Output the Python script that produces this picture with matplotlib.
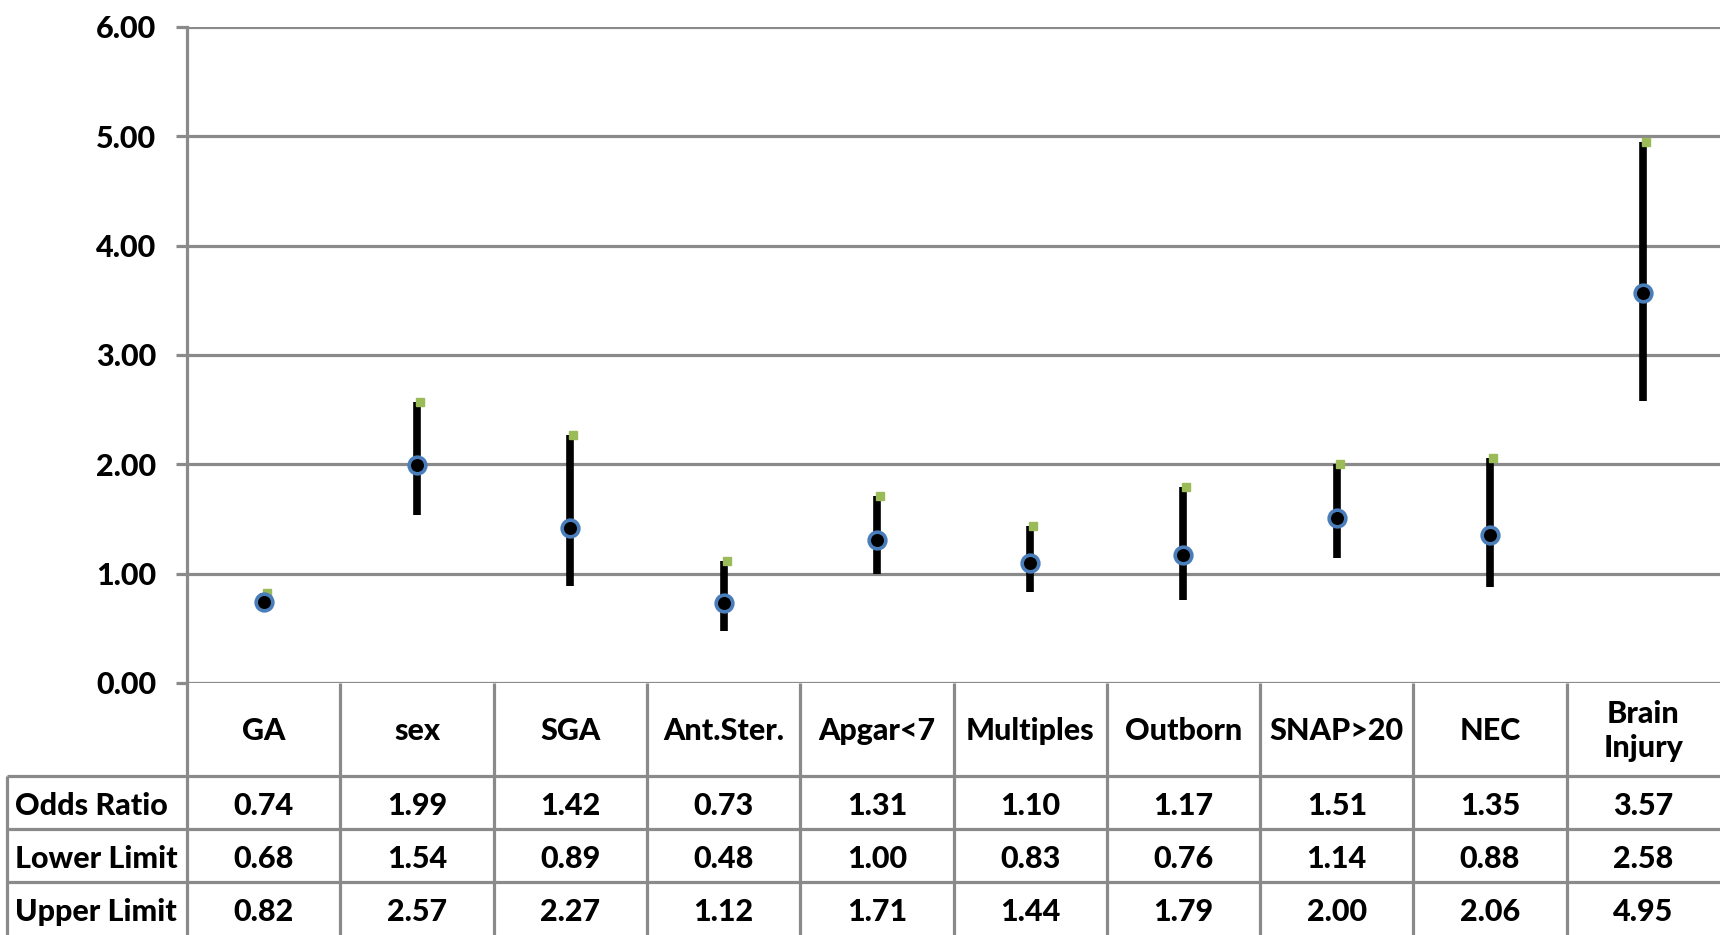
import matplotlib
matplotlib.use("Agg")
import matplotlib.pyplot as plt
import matplotlib.transforms as mtransforms
import numpy as np

categories = ["GA", "sex", "SGA", "Ant.Ster.", "Apgar<7", "Multiples",
              "Outborn", "SNAP>20", "NEC", "Brain\nInjury"]
odds_ratio = [0.74, 1.99, 1.42, 0.73, 1.31, 1.10, 1.17, 1.51, 1.35, 3.57]
lower_limit = [0.68, 1.54, 0.89, 0.48, 1.00, 0.83, 0.76, 1.14, 0.88, 2.58]
upper_limit = [0.82, 2.57, 2.27, 1.12, 1.71, 1.44, 1.79, 2.00, 2.06, 4.95]
row_names = ["Odds Ratio", "Lower Limit", "Upper Limit"]
y_ticks = [0, 1, 2, 3, 4, 5, 6]

grijs = "#8a8a8a"
fonte = {"family": ["Lato", "DejaVu Sans"], "weight": "black", "size": 22}

W, H = 1720, 935
fig = plt.figure(figsize=(W / 100, H / 100), dpi=100)

# posicoes em pixels
x0 = 187
y_zero = 683
y_top = 27
ax = fig.add_axes([x0 / W, (H - y_zero) / H, (W - x0) / W, (y_zero - y_top) / H])

n = len(categories)
xs = np.arange(n) + 0.5

ax.set_xlim(0, n)
ax.set_ylim(0, 6)
ax.set_yticks(y_ticks)
ax.set_yticklabels([f"{v:.2f}" for v in y_ticks], fontdict=fonte)
ax.set_xticks([])
ax.grid(axis="y", color=grijs, linewidth=2.3)
ax.set_axisbelow(True)
for s in ["top", "right", "bottom"]:
    ax.spines[s].set_visible(False)
ax.spines["left"].set_color(grijs)
ax.spines["left"].set_linewidth(2.3)
ax.tick_params(axis="y", length=8, width=2.3, color=grijs, pad=14)

# hi-lo lines
ax.vlines(xs, lower_limit, upper_limit, color="black", linewidth=5.5,
          capstyle="butt", zorder=3)
# upper marker, a bit to the right
desloc = mtransforms.offset_copy(ax.transData, fig=fig, x=3, y=0, units="dots")
ax.plot(xs, upper_limit, linestyle="none", marker="s", markersize=5.5,
        color="#9bbb59", transform=desloc, zorder=4, clip_on=False)
ax.plot(xs, odds_ratio, linestyle="none", marker="o", markersize=12,
        markerfacecolor="black", markeredgecolor="#4a7ebb",
        markeredgewidth=2.6, zorder=5)

# tabela de dados embaixo
tab = fig.add_axes([x0 / W, 0, (W - x0) / W, (H - y_zero) / H])
tab.set_xlim(0, n)
tab.set_ylim(4.75, 0)
tab.axis("off")

x_label = (7 - x0) / ((W - x0) / n)
linhas = [0, 1.75, 2.75, 3.75]
lw = 2.3
tab.hlines(linhas[1:], x_label, n, color=grijs, linewidth=lw, clip_on=False)
tab.vlines([x_label], 1.75, 4.75, color=grijs, linewidth=lw, clip_on=False)
tab.vlines(np.arange(0, n), 0, 4.75, color=grijs, linewidth=lw, clip_on=False)

for i, c in enumerate(categories):
    tab.text(xs[i], 0.9, c, ha="center", va="center", fontdict=fonte,
             linespacing=1.25)

valores = [odds_ratio, lower_limit, upper_limit]
for r, (nome, vals) in enumerate(zip(row_names, valores)):
    yc = 1.75 + r + 0.56
    tab.text(x_label + 0.055, yc, nome, ha="left", va="center",
             fontdict=fonte, clip_on=False)
    for i, v in enumerate(vals):
        tab.text(xs[i], yc, f"{v:.2f}", ha="center", va="center", fontdict=fonte)

fig.savefig("out.png", dpi=100)
